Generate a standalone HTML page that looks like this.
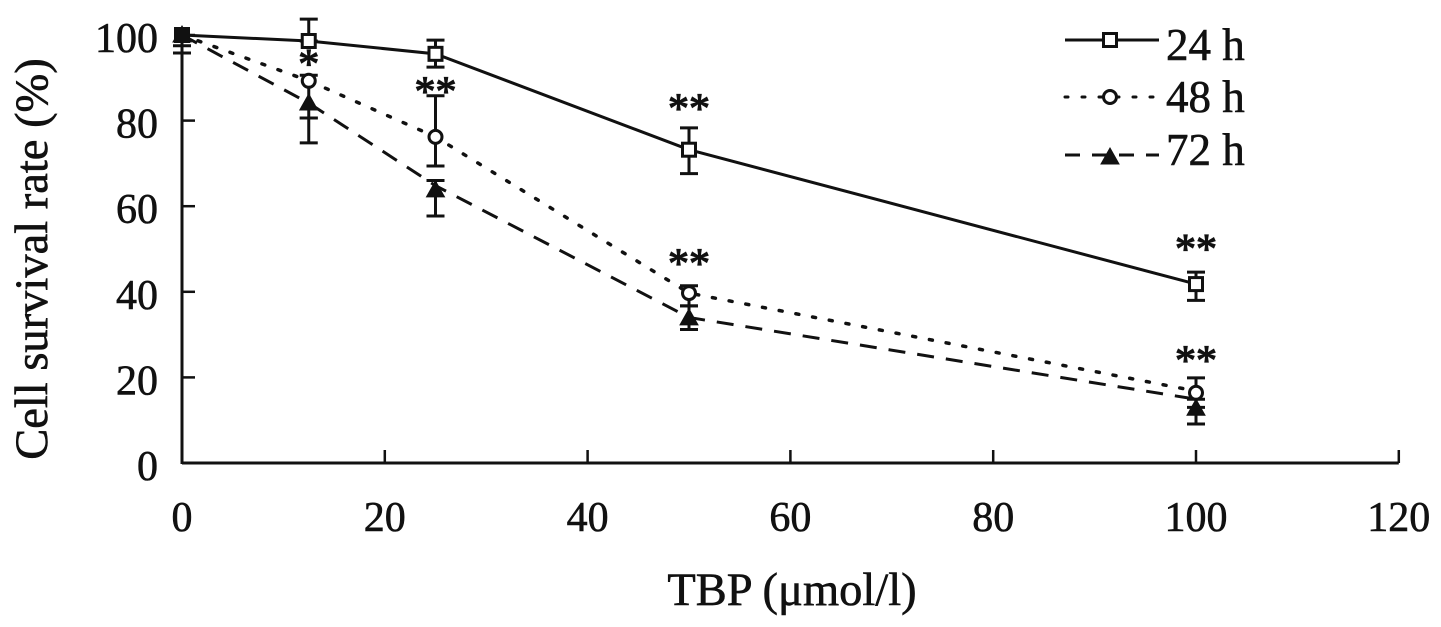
<!DOCTYPE html>
<html>
<head>
<meta charset="utf-8">
<style>
html,body{margin:0;padding:0;background:#fff;width:1441px;height:627px;overflow:hidden}
svg{display:block}
text{font-family:"Liberation Serif",serif;fill:#111;stroke:#111;stroke-width:0.6px}
</style>
</head>
<body>
<svg id="chart" width="1441" height="627" viewBox="0 0 1441 627" xmlns="http://www.w3.org/2000/svg">
<text x="792" y="605" font-size="46.5" text-anchor="middle">TBP (μmol/l)</text>
<text transform="translate(47,259) rotate(-90)" font-size="46.5" text-anchor="middle">Cell survival rate (%)</text>
</svg>
<script>
const doses = [0, 12.5, 25, 50, 100];
const values24h = [100, 98.6, 95.6, 73.2, 41.8];
const upper24h = [100, 103.7, 98.8, 78.3, 44.6];
const lower24h = [100, 98.6, 92.5, 67.6, 38];
const values48h = [100, 89.3, 76.2, 39.7, 16.4];
const upper48h = [100, 90.6, 85.8, 41.4, 19.9];
const lower48h = [97.5, 80.6, 69.4, 36.7, 13];
const values72h = [100, 84.1, 63.8, 33.9, 12.8];
const upper72h = [100, 80.6, 66, 36.7, 14.9];
const lower72h = [95.8, 74.8, 57.7, 31.2, 9.1];
const lineEnd72h = [100, 84.1, 64.8, 34, 14.9];
const lineEnd48h = [100, 89.3, 76.2, 39.7, 16.8];
const xTicks = [0, 20, 40, 60, 80, 100, 120];
const yTicks = [0, 20, 40, 60, 80, 100];
const stars24hDoses = [50, 100];
const stars24hValues = [84.7, 51.9];
const stars48hDoses = [12.5, 25, 50, 100];
const stars48hValues = [95.1, 88.7, 48.5, 25.8];
const stars48hLabels = ['*', '**', '**', '**'];
const legendLabels = ['24 h', '48 h', '72 h'];

const NS = 'http://www.w3.org/2000/svg';
const svg = document.getElementById('chart');
const xScale = v => 182 + v * 10.14;
const yScale = v => 463 - v * 4.28;
function mk(tag, attrs, parent) {
  const el = document.createElementNS(NS, tag);
  for (const k in attrs) el.setAttribute(k, attrs[k]);
  (parent || svg).appendChild(el);
  return el;
}
const ink = '#111';

/* axes */
const xAxis = mk('line', {x1: 182, y1: yScale(0), x2: xScale(120), y2: yScale(0), stroke: ink, 'stroke-width': 3});


const yAxis = mk('line', {x1: 182, y1: yScale(0) + 1, x2: 182, y2: yScale(100), stroke: ink, 'stroke-width': 3});



xTicks.forEach(t => {
  const tick = mk('line', {x1: xScale(t), y1: yScale(0), x2: xScale(t), y2: yScale(0) - 13, stroke: ink, 'stroke-width': 2.5});
  
  
  const lab = mk('text', {x: xScale(t), y: 531, 'font-size': 42, 'text-anchor': 'middle'});
  lab.textContent = t;
  
  
});
yTicks.forEach(t => {
  const tick = mk('line', {x1: 182, y1: yScale(t), x2: 195, y2: yScale(t), stroke: ink, 'stroke-width': 2.5});
  
  
  const lab = mk('text', {x: 158, y: yScale(t) + 17, 'font-size': 42, 'text-anchor': 'end'});
  lab.textContent = t;
  
  
});

function drawLine(vals, dash, width, cap, name) {
  const pts = doses.map((d, i) => xScale(d) + ',' + yScale(vals[i])).join(' ');
  const attrs = {points: pts, fill: 'none', stroke: ink, 'stroke-width': width, 'stroke-linecap': cap};
  if (dash) attrs['stroke-dasharray'] = dash;
  const el = mk('polyline', attrs);
  
  
}
function drawErrors(up, lo, name) {
  doses.forEach((d, i) => {
    if (d === 0) {
      if (lo[i] < 100) {
        const c0 = mk('line', {x1: xScale(d) - 9, x2: xScale(d) + 9, y1: yScale(lo[i]), y2: yScale(lo[i]), stroke: ink, 'stroke-width': 3});
        
        
      }
      return;
    }
    const g = mk('g', {stroke: ink, 'stroke-width': 3});
    
    
    mk('line', {x1: xScale(d), x2: xScale(d), y1: yScale(up[i]), y2: yScale(lo[i])}, g);
    mk('line', {x1: xScale(d) - 9, x2: xScale(d) + 9, y1: yScale(up[i]), y2: yScale(up[i])}, g);
    mk('line', {x1: xScale(d) - 9, x2: xScale(d) + 9, y1: yScale(lo[i]), y2: yScale(lo[i])}, g);
  });
}
function square(cx, cy, fill) {
  return mk('rect', {x: cx - 6.5, y: cy - 6.5, width: 13, height: 13, fill: fill, stroke: ink, 'stroke-width': 3});
}
function circle(cx, cy, fill) {
  return mk('circle', {cx: cx, cy: cy, r: 6.5, fill: fill, stroke: ink, 'stroke-width': 3});
}
function triangle(cx, cy) {
  return mk('polygon', {points: (cx) + ',' + (cy - 9) + ' ' + (cx + 9) + ',' + (cy + 7) + ' ' + (cx - 9) + ',' + (cy + 7), fill: ink, stroke: ink, 'stroke-width': 1});
}

drawLine(values24h, null, 3, 'butt', 'line-24h');
drawLine(lineEnd48h, '3 14', 3.5, 'round', 'line-48h');
drawLine(lineEnd72h, '17 12', 3, 'butt', 'line-72h');
drawErrors(upper24h, lower24h, 'error-bar-24h');
drawErrors(upper48h, lower48h, 'error-bar-48h');
drawErrors(upper72h, lower72h, 'error-bar-72h');

doses.forEach((d, i) => {
  const c = circle(xScale(d), yScale(values48h[i]), '#fff');
  
  
  const t = triangle(xScale(d), yScale(values72h[i]));
  
  
  const s = square(xScale(d), yScale(values24h[i]), d === 0 ? ink : '#fff');
  
  
});

stars24hDoses.forEach((d, i) => {
  const st = mk('text', {x: xScale(d), y: yScale(stars24hValues[i]) + 22, 'font-size': 42, 'text-anchor': 'middle', style: 'stroke-width:1.2px'});
  st.textContent = '**';
  
  
});
stars48hDoses.forEach((d, i) => {
  const st = mk('text', {x: xScale(d), y: yScale(stars48hValues[i]) + 22, 'font-size': 42, 'text-anchor': 'middle', style: 'stroke-width:1.2px'});
  st.textContent = stars48hLabels[i];
  
  
});

/* legend */
const legendY = [40, 97, 155];
const legendTextY = [60, 112, 165];
const legendDash = [null, '3 14', '15 12'];
legendLabels.forEach((label, i) => {
  const g = mk('g', {});
  
  
  const attrs = {x1: 1065, x2: 1159, y1: legendY[i], y2: legendY[i], stroke: ink, 'stroke-width': 3, 'stroke-linecap': i === 1 ? 'round' : 'butt'};
  if (legendDash[i]) attrs['stroke-dasharray'] = legendDash[i];
  mk('line', attrs, g);
  let marker;
  if (i === 0) marker = square(1110, legendY[i], '#fff');
  else if (i === 1) marker = circle(1110, legendY[i], '#fff');
  else marker = triangle(1110, legendY[i] + 2);
  g.appendChild(marker);
  const txt = mk('text', {x: 1166, y: legendTextY[i], 'font-size': 45}, g);
  txt.textContent = label;
});
</script>
</body>
</html>
